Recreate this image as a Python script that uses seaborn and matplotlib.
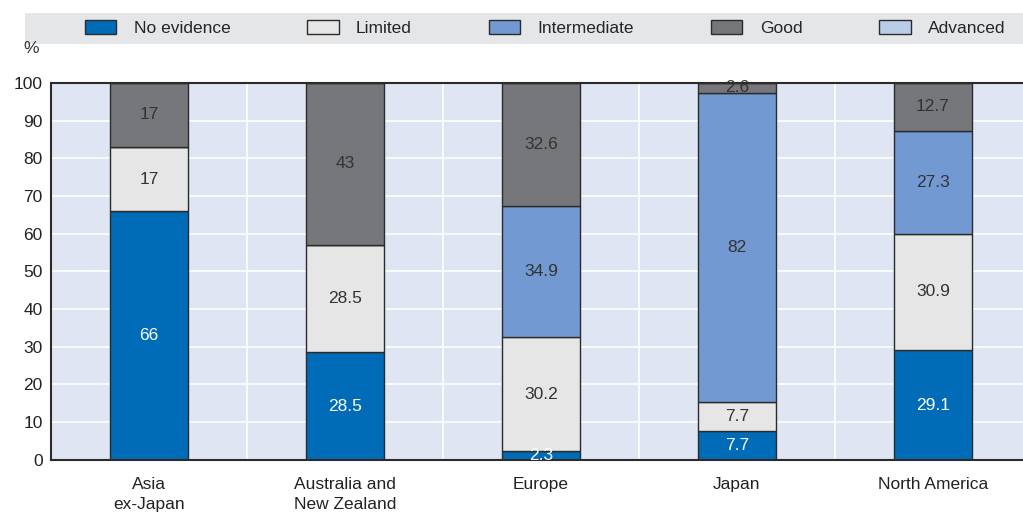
import numpy as np
import pandas as pd
import seaborn as sns
import matplotlib.pyplot as plt
from matplotlib.patches import Rectangle

# Data
regions = ['Asia\nex-Japan', 'Australia and\nNew Zealand', 'Europe', 'Japan', 'North America']
levels = ['No evidence', 'Limited', 'Intermediate', 'Good', 'Advanced']
no_evidence = [66, 28.5, 2.3, 7.7, 29.1]
limited = [17, 28.5, 30.2, 7.7, 30.9]
intermediate = [0, 0, 34.9, 82, 27.3]
good = [17, 43, 32.6, 2.6, 12.7]
advanced = [0, 0, 0, 0, 0]

colors = ['#006BB6', '#E6E6E6', '#7299D1', '#76777A', '#B9CDE9']
label_colors = ['white', '#333333', '#333333', '#333333', '#333333']

sns.set_style('white')
plt.rcParams['font.family'] = ['Liberation Sans', 'DejaVu Sans']
fs = 12.5

df = pd.DataFrame({'region': regions, 'No evidence': no_evidence, 'Limited': limited,
                   'Intermediate': intermediate, 'Good': good, 'Advanced': advanced})

fig = plt.figure(figsize=(10.23, 5.15), dpi=100)
ax = fig.add_axes([0.05, 0.107, 0.95, 0.732])
ax.set_facecolor('#DFE5F3')

bottom = np.zeros(len(regions))
handles = []
for lev, col, tcol in zip(levels, colors, label_colors):
    vals = df[lev].values
    sns.barplot(x=df['region'], y=vals, bottom=bottom, color=col, width=0.4,
                edgecolor='#2b2b2b', linewidth=1, ax=ax, saturation=1)
    for i, v in enumerate(vals):
        if v > 0:
            ax.text(i, bottom[i] + v / 2, f'{v:g}', ha='center', va='center',
                    color=tcol, fontsize=fs)
    handles.append(Rectangle((0, 0), 1, 1, facecolor=col, edgecolor='#2b2b2b', linewidth=1))
    bottom = bottom + vals

ax.set_xlim(-0.5, 4.46)
ax.set_ylim(0, 100)
ax.set_yticks(range(0, 101, 10))
ax.set_xlabel('')
ax.set_ylabel('')
ax.tick_params(axis='y', labelsize=fs, length=5, direction='in', color='#888888', pad=6,
               labelcolor='#222222')
ax.tick_params(axis='x', labelsize=fs, length=0, pad=12, labelcolor='#222222')
for lbl in ax.get_xticklabels():
    lbl.set_linespacing(1.45)
for y in range(10, 100, 10):
    ax.axhline(y, color='white', linewidth=1.2, zorder=0)
for x in [0.5, 1.5, 2.5, 3.5]:
    ax.axvline(x, color='white', linewidth=1.2, zorder=0)
ax.set_axisbelow(True)
for s in ['left', 'bottom', 'top']:
    ax.spines[s].set_color('#2b2b2b')
    ax.spines[s].set_linewidth(1.5)
ax.spines['right'].set_visible(False)

fig.text(0.03, 0.905, '%', fontsize=fs, ha='center', va='center', color='#333333')

# legend band
fig.patches.append(Rectangle((0.024, 0.915), 0.976, 0.06, transform=fig.transFigure,
                             facecolor='#E5E6E8', edgecolor='none', zorder=0))
fig.legend(handles, levels, loc='center', bbox_to_anchor=(0.083, 0.915, 0.9, 0.06),
           mode='expand', ncol=5, frameon=False, fontsize=fs, handlelength=1.8,
           handleheight=0.8, handletextpad=1.0, borderaxespad=0, borderpad=0)

fig.savefig('out.png', dpi=100)
